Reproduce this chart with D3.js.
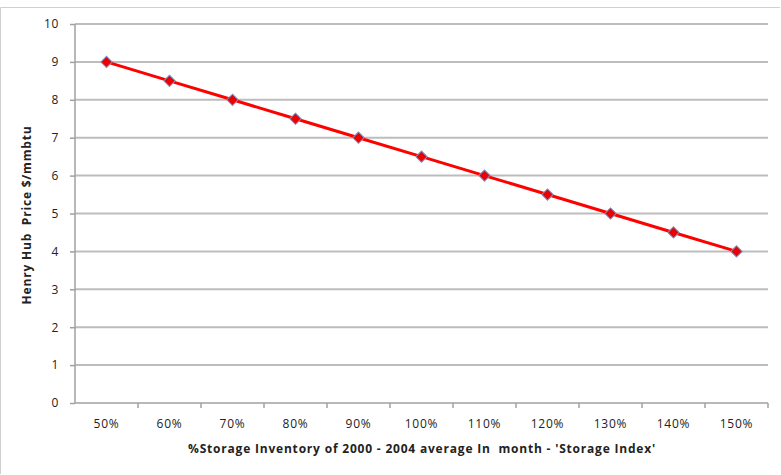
<!DOCTYPE html>
<html><head><meta charset="utf-8">
<script src="https://cdn.jsdelivr.net/npm/d3@7"></script>
<style>body{margin:0;background:#fff}svg{display:block}text{font-family:"Open Sans","Liberation Sans",sans-serif;white-space:pre}</style>
</head><body>
<svg id="c" width="781" height="475"></svg>
<script>
const categories = ["50%","60%","70%","80%","90%","100%","110%","120%","130%","140%","150%"];
const prices = [9, 8.5, 8, 7.5, 7, 6.5, 6, 5.5, 5, 4.5, 4];
const yTicks = [0,1,2,3,4,5,6,7,8,9,10];

const svg = d3.select("#c");
const L = 75, R = 768, T = 24, B = 403;
// chart border
svg.append("path").attr("d","M0.5,474 V7.5 H780").attr("fill","none").attr("stroke","#d0d0d0").attr("stroke-width",1);

const x = d3.scaleBand().domain(categories).range([L, R]);
const y = d3.scaleLinear().domain([0, 10]).range([B, T]);

// gridlines
svg.append("g").selectAll("line").data(yTicks.filter(d=>d>0)).join("line")
  .attr("x1", L).attr("x2", R).attr("y1", d=>y(d)).attr("y2", d=>y(d))
  .attr("stroke","#bdbdbd").attr("stroke-width",2);

// y axis
const ya = svg.append("g").attr("transform",`translate(${L},0)`)
  .call(d3.axisLeft(y).tickValues(yTicks).tickSize(5).tickPadding(11));
ya.select(".domain").attr("stroke","#a0a0a0").attr("stroke-width",1.5).attr("d",`M0,${T}V${B}`);
ya.selectAll(".tick line").attr("stroke","#a0a0a0").attr("stroke-width",1.5);
ya.selectAll(".tick text").attr("font-size",12).attr("letter-spacing",0.6).attr("fill","#222");

// x axis
const xa = svg.append("g").attr("transform",`translate(0,${B})`)
  .call(d3.axisBottom(x).tickSize(0).tickPadding(16));
xa.select(".domain").attr("stroke","#a0a0a0").attr("stroke-width",1.5).attr("d",`M${L},0H${R}`);
xa.selectAll(".tick text").attr("font-size",12).attr("letter-spacing",0.8).attr("fill","#222");
svg.append("g").selectAll("line").data(categories).join("line")
  .attr("x1", d=>x(d)+x.bandwidth()).attr("x2", d=>x(d)+x.bandwidth())
  .attr("y1", B).attr("y2", B+5).attr("stroke","#a0a0a0").attr("stroke-width",1.5);

// line
const line = d3.line().x((d,i)=>x(categories[i])+x.bandwidth()/2).y(d=>y(d));
svg.append("path").datum(prices).attr("d",line).attr("fill","none")
  .attr("stroke","#ff0000").attr("stroke-width",3);

// markers (square rotated 45°)
svg.append("g").selectAll("path").data(prices).join("path")
  .attr("d", d3.symbol().type(d3.symbolSquare).size(64))
  .attr("transform",(d,i)=>`translate(${x(categories[i])+x.bandwidth()/2},${y(d)}) rotate(45)`)
  .attr("fill","#ee0000").attr("stroke","#7a8fc0").attr("stroke-width",1);

// titles
svg.append("text").attr("x",422).attr("y",453).attr("text-anchor","middle")
  .attr("font-size",12).attr("letter-spacing",0.8).attr("font-weight","bold").attr("fill","#222")
  .text("%Storage Inventory of 2000 - 2004 average In  month - 'Storage Index'");
svg.append("text").attr("transform","translate(31,215) rotate(-90)").attr("text-anchor","middle")
  .attr("font-size",12).attr("letter-spacing",0.8).attr("font-weight","bold").attr("fill","#222")
  .text("Henry Hub  Price $/mmbtu");
</script>
</body></html>
